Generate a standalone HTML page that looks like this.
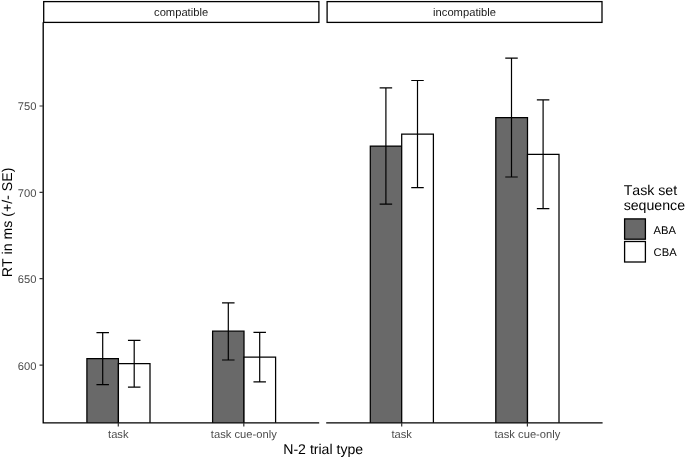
<!DOCTYPE html>
<html><head><meta charset="utf-8"><title>Plot</title>
<style>html,body{margin:0;padding:0;background:#fff}svg{display:block}text{font-family:"Liberation Sans",Arial,sans-serif;font-kerning:none;text-rendering:geometricPrecision}</style></head><body>
<svg width="685" height="458" viewBox="0 0 685 458">
<rect width="685" height="458" fill="#fff"/>
<rect x="43.7" y="1.6" width="275.2" height="20.8" fill="#fff" stroke="#000" stroke-width="1.3"/>
<rect x="327.1" y="1.6" width="274.9" height="20.8" fill="#fff" stroke="#000" stroke-width="1.3"/>
<text x="181.1" y="15.8" font-size="11.2" fill="#1a1a1a" text-anchor="middle">compatible</text>
<text x="464.5" y="15.8" font-size="11.2" fill="#1a1a1a" text-anchor="middle">incompatible</text>
<path d="M86.9 422.8V358.5H118.4V422.8" fill="#696969" stroke="#000" stroke-width="1.25" stroke-linejoin="miter"/>
<path d="M118.4 422.8V363.7H150.0V422.8" fill="#fff" stroke="#000" stroke-width="1.25" stroke-linejoin="miter"/>
<path d="M212.6 422.8V331.2H244.0V422.8" fill="#696969" stroke="#000" stroke-width="1.25" stroke-linejoin="miter"/>
<path d="M244.0 422.8V357.1H275.6V422.8" fill="#fff" stroke="#000" stroke-width="1.25" stroke-linejoin="miter"/>
<path d="M370.3 422.8V146.1H401.7V422.8" fill="#696969" stroke="#000" stroke-width="1.25" stroke-linejoin="miter"/>
<path d="M401.7 422.8V134.1H433.4V422.8" fill="#fff" stroke="#000" stroke-width="1.25" stroke-linejoin="miter"/>
<path d="M495.8 422.8V117.5H527.5V422.8" fill="#696969" stroke="#000" stroke-width="1.25" stroke-linejoin="miter"/>
<path d="M527.5 422.8V154.3H559.0V422.8" fill="#fff" stroke="#000" stroke-width="1.25" stroke-linejoin="miter"/>
<path d="M96.45 332.6H108.95M102.7 332.6V384.6M96.45 384.6H108.95" fill="none" stroke="#000" stroke-width="1.2"/>
<path d="M127.95 340.4H140.45M134.2 340.4V387.2M127.95 387.2H140.45" fill="none" stroke="#000" stroke-width="1.2"/>
<path d="M222.05 302.8H234.55M228.3 302.8V360.0M222.05 360.0H234.55" fill="none" stroke="#000" stroke-width="1.2"/>
<path d="M253.45 332.3H265.95M259.7 332.3V381.9M253.45 381.9H265.95" fill="none" stroke="#000" stroke-width="1.2"/>
<path d="M379.65 87.9H392.15M385.9 87.9V204.2M379.65 204.2H392.15" fill="none" stroke="#000" stroke-width="1.2"/>
<path d="M411.25 80.5H423.75M417.5 80.5V187.6M411.25 187.6H423.75" fill="none" stroke="#000" stroke-width="1.2"/>
<path d="M505.25 58.1H517.75M511.5 58.1V177.0M505.25 177.0H517.75" fill="none" stroke="#000" stroke-width="1.2"/>
<path d="M536.85 99.8H549.35M543.1 99.8V208.6M536.85 208.6H549.35" fill="none" stroke="#000" stroke-width="1.2"/>
<path d="M43.2 22.3V422.8M42.550000000000004 422.8H319.2M326.2 422.8H602.6" fill="none" stroke="#000" stroke-width="1.35"/>
<path d="M39.5 106.0H43.2M39.5 192.4H43.2M39.5 278.7H43.2M39.5 365.1H43.2M118.3 422.8V426.5M243.8 422.8V426.5M401.7 422.8V426.5M527.4 422.8V426.5" fill="none" stroke="#333" stroke-width="1.2"/>
<text x="36.45" y="110.4" font-size="11.2" fill="#4d4d4d" text-anchor="end">750</text>
<text x="36.45" y="196.8" font-size="11.2" fill="#4d4d4d" text-anchor="end">700</text>
<text x="36.45" y="283.1" font-size="11.2" fill="#4d4d4d" text-anchor="end">650</text>
<text x="36.45" y="369.5" font-size="11.2" fill="#4d4d4d" text-anchor="end">600</text>
<text x="118.3" y="437.5" font-size="11.2" fill="#4d4d4d" text-anchor="middle">task</text>
<text x="243.8" y="437.5" font-size="11.2" fill="#4d4d4d" text-anchor="middle">task cue-only</text>
<text x="401.7" y="437.5" font-size="11.2" fill="#4d4d4d" text-anchor="middle">task</text>
<text x="527.4" y="437.5" font-size="11.2" fill="#4d4d4d" text-anchor="middle">task cue-only</text>
<text x="323.2" y="453.9" font-size="14.1" fill="#000" text-anchor="middle">N-2 trial type</text>
<text transform="translate(11.6 222.4) rotate(-90)" font-size="14.15" fill="#000" text-anchor="middle">RT in ms (+/- SE)</text>
<text x="623.7" y="194.5" font-size="14.15" fill="#000">Task set</text>
<text x="623.7" y="210.0" font-size="14.15" fill="#000">sequence</text>
<rect x="624.6" y="218.9" width="20.8" height="20.3" fill="#696969" stroke="#000" stroke-width="1.3"/>
<rect x="624.6" y="241.5" width="20.8" height="20.5" fill="#fff" stroke="#000" stroke-width="1.3"/>
<text x="653.6" y="233.6" font-size="11.2" fill="#000">ABA</text>
<text x="653.6" y="255.9" font-size="11.2" fill="#000">CBA</text>
</svg></body></html>
